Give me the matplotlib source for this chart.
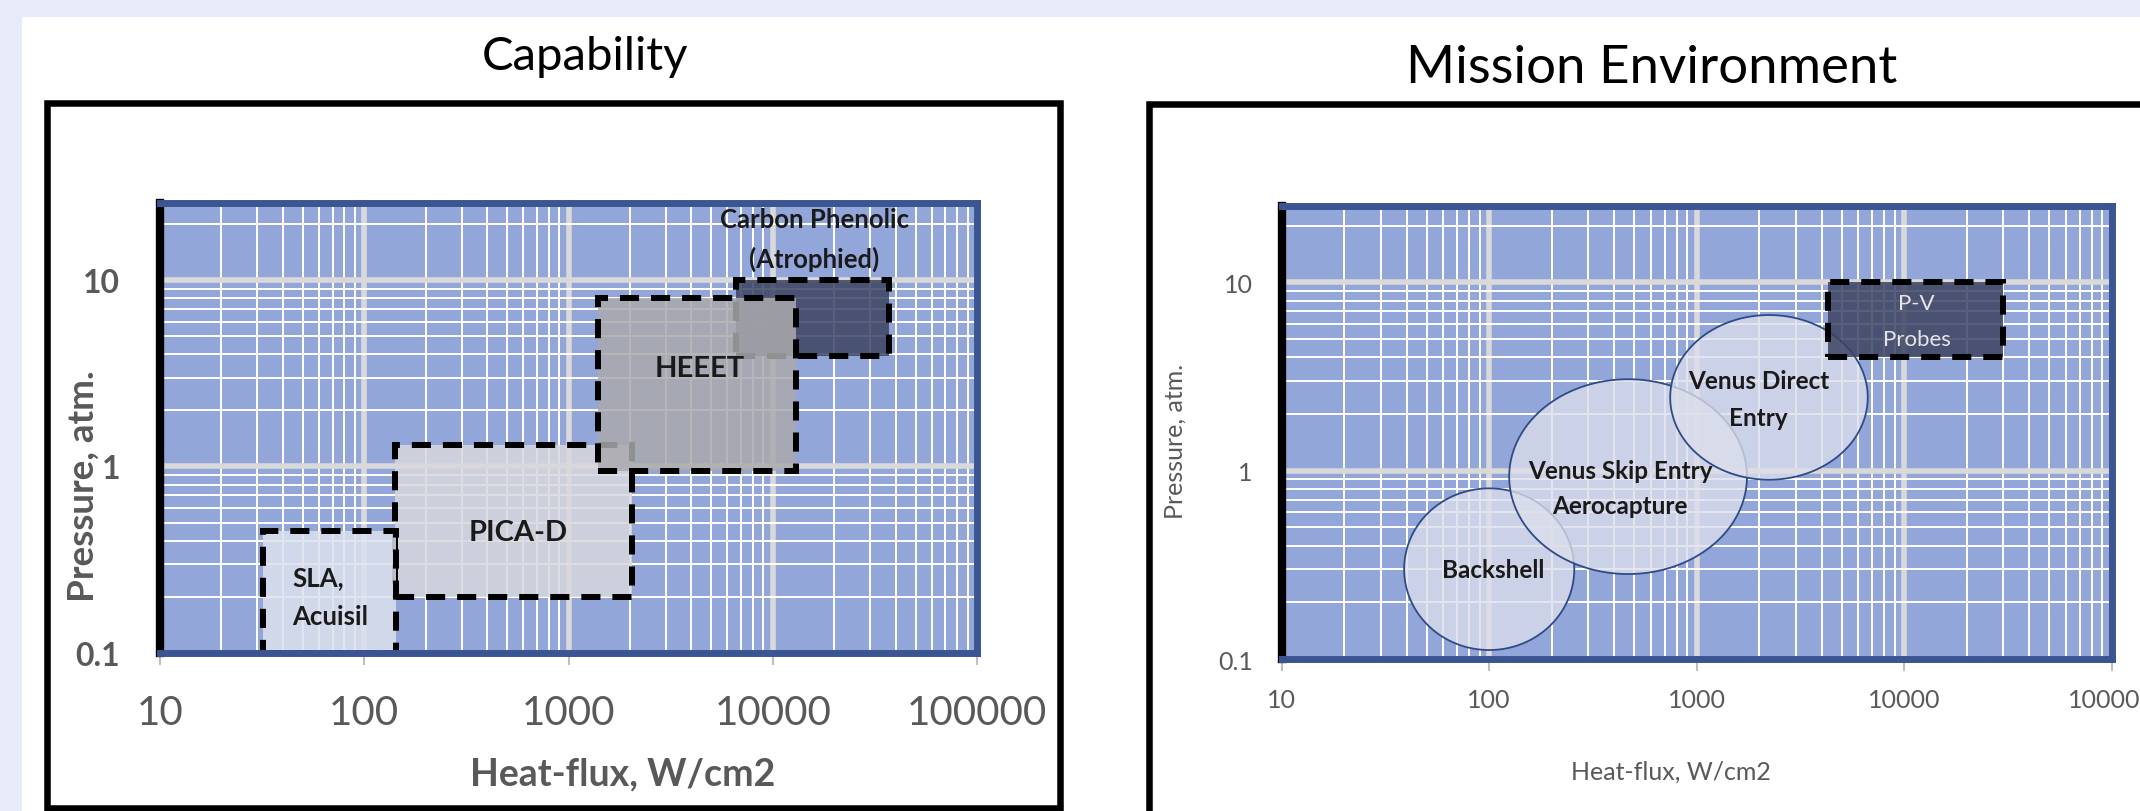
import matplotlib
matplotlib.use("Agg")
import matplotlib.pyplot as plt
import numpy as np
from matplotlib.colors import to_rgba
from matplotlib.patches import Rectangle
from matplotlib.ticker import FixedLocator, FixedFormatter, LogLocator, NullFormatter

plt.rcParams["font.family"] = ["Lato", "DejaVu Sans"]

W, H = 2140, 812

# shared axes
X_TICKS = [10, 100, 1000, 10000, 100000]
X_TICK_LABELS = ["10", "100", "1000", "10000", "100000"]
Y_TICKS = [0.1, 1, 10]
Y_TICK_LABELS = ["0.1", "1", "10"]
X_LIM = (10, 100000)
Y_LIM_CAP = (0.1, 26)
Y_LIM_ENV = (0.1, 25.5)

# Capability boxes (drawn in this order)
CAP_X0 = [6600, 142, 32, 1400]
CAP_X1 = [37000, 2050, 143, 13000]
CAP_Y0 = [3.9, 0.2, 0.1, 0.95]
CAP_Y1 = [10, 1.3, 0.45, 8]
CAP_FILL = ["#3C4361", "#D7D7DD", "#DDE1ED", "#AAAAAD"]

CAP_LABELS = ["Carbon Phenolic\n(Atrophied)", "PICA-D", "SLA,\nAcuisil", "HEEET"]
CAP_LABEL_X = [16000, 570, 44.6, 4400]
CAP_LABEL_Y = [16.7, 0.447, 0.2, 3.36]
CAP_LABEL_SIZE = [18.5, 21, 18.5, 21]
CAP_LABEL_HA = ["center", "center", "left", "center"]
CAP_LABEL_LS = [1.7, 1.2, 1.75, 1.2]

# Mission environment ellipses: centre + half-axes in decades
ENV_LABELS = ["Backshell", "Venus Skip Entry\nAerocapture", "Venus Direct\nEntry"]
ENV_CX = [100, 467, 2230]
ENV_CY = [0.30, 0.93, 2.45]
ENV_RX = [0.41, 0.573, 0.476]
ENV_RY = [0.429, 0.517, 0.437]
ENV_LABEL_X = [104, 427, 1990]
ENV_LABEL_Y = [0.298, 0.81, 2.40]
ENV_LABEL_LS = [1.2, 1.6, 1.74]

PV_X = (4300, 30000)
PV_Y = (4, 10)
PV_LABEL = "P-V\nProbes"
PV_LABEL_XY = (11500, 6.25)

PLOT_BG = "#93A6DA"
BORDER = "#3B5592"
GRAY = "#595959"
LAVENDER = "#E7EAF8"


def fx(px):
    return px / W


def fy(py):
    return 1 - py / H


def style_axes(ax, ylim, tick_size_x, tick_size_y, y_bold, xpad, ypad):
    ax.set_xscale("log")
    ax.set_yscale("log")
    ax.set_xlim(X_LIM)
    ax.set_ylim(ylim)
    ax.set_facecolor(PLOT_BG)
    ax.xaxis.set_major_locator(FixedLocator(X_TICKS))
    ax.xaxis.set_major_formatter(FixedFormatter(X_TICK_LABELS))
    ax.yaxis.set_major_locator(FixedLocator(Y_TICKS))
    ax.yaxis.set_major_formatter(FixedFormatter(Y_TICK_LABELS))
    for axis in (ax.xaxis, ax.yaxis):
        axis.set_minor_locator(LogLocator(base=10, subs=np.arange(2, 10), numticks=20))
        axis.set_minor_formatter(NullFormatter())
    ax.grid(which="major", color="#D9D9D9", lw=4)
    ax.grid(which="minor", color="white", lw=1.4)
    ax.set_axisbelow(True)
    ax.tick_params(which="minor", length=0)
    ax.tick_params(axis="x", which="major", length=8.6, width=1.5, color="#BFBFBF",
                   direction="out", labelsize=tick_size_x, labelcolor=GRAY, pad=xpad)
    ax.tick_params(axis="y", which="major", length=0, labelsize=tick_size_y,
                   labelcolor=GRAY, pad=ypad)
    if y_bold:
        for t in ax.get_yticklabels():
            t.set_fontweight("bold")
    ax.spines["left"].set_color("black")
    ax.spines["left"].set_linewidth(6)
    for s in ("top", "right", "bottom"):
        ax.spines[s].set_color(BORDER)
        ax.spines[s].set_linewidth(5)


fig = plt.figure(figsize=(W / 100, H / 100), dpi=100, facecolor="white")

# slide background bands and chart frames
fig.add_artist(Rectangle((0, fy(18)), 1, 18 / H, transform=fig.transFigure,
                         color=LAVENDER, lw=0, zorder=0))
fig.add_artist(Rectangle((0, 0), fx(22), 1, transform=fig.transFigure,
                         color=LAVENDER, lw=0, zorder=0))
fig.add_artist(Rectangle((fx(46.5), fy(809)), fx(1060 - 46.5), (809 - 103.5) / H,
                         transform=fig.transFigure, fill=False, ec="black", lw=4.7))
fig.add_artist(Rectangle((fx(1149.5), fy(840)), fx(1100), (840 - 104.5) / H,
                         transform=fig.transFigure, fill=False, ec="black", lw=4.7))

fig.text(fx(585), fy(70), "Capability", ha="center", va="baseline", fontsize=34)
fig.text(fx(1652), fy(82.7), "Mission Environment", ha="center", va="baseline", fontsize=38)

# ---- Capability ----
ax1 = fig.add_axes([fx(160), fy(653.7), fx(817), 449.7 / H])
style_axes(ax1, Y_LIM_CAP, 29, 23, True, 21, 28.8)
for x0, x1, y0, y1, c in zip(CAP_X0, CAP_X1, CAP_Y0, CAP_Y1, CAP_FILL):
    ax1.add_patch(Rectangle((x0, y0), x1 - x0, y1 - y0, facecolor=to_rgba(c, 0.85),
                            edgecolor="black", lw=4.3, linestyle=(0, (3.2, 2))))
for lab, x, y, s, ha, ls in zip(CAP_LABELS, CAP_LABEL_X, CAP_LABEL_Y, CAP_LABEL_SIZE,
                                CAP_LABEL_HA, CAP_LABEL_LS):
    ax1.text(x, y, lab, ha=ha, va="center", fontsize=s, fontweight="bold",
             color="#1A1A1A", linespacing=ls, multialignment="center" if ha == "center" else "left")
ax1.set_xlabel("Heat-flux, W/cm2", fontsize=27, fontweight="bold", color=GRAY, va="center")
ax1.xaxis.set_label_coords((623 - 160) / 817, (653.7 - 774) / 449.7)
ax1.set_ylabel("Pressure, atm.", fontsize=26.5, fontweight="bold", color=GRAY, va="center")
ax1.yaxis.set_label_coords((83 - 160) / 817, (653.7 - 486) / 449.7)

# ---- Mission Environment ----
ax2 = fig.add_axes([fx(1281.7), fy(660.1), fx(830), 453.4 / H])
style_axes(ax2, Y_LIM_ENV, 18, 18, False, 12.5, 20.7)
t = np.linspace(0, 2 * np.pi, 300)
for cx, cy, rx, ry in zip(ENV_CX, ENV_CY, ENV_RX, ENV_RY):
    ex = 10 ** (np.log10(cx) + rx * np.cos(t))
    ey = 10 ** (np.log10(cy) + ry * np.sin(t))
    ax2.fill(ex, ey, facecolor=to_rgba("#DCDEEA", 0.78), edgecolor="#2F4B86", lw=1.3)
ax2.add_patch(Rectangle((PV_X[0], PV_Y[0]), PV_X[1] - PV_X[0], PV_Y[1] - PV_Y[0],
                        facecolor=to_rgba("#3C4361", 0.85), edgecolor="black", lw=4.3,
                        linestyle=(0, (3.2, 2))))
for lab, x, y, ls in zip(ENV_LABELS, ENV_LABEL_X, ENV_LABEL_Y, ENV_LABEL_LS):
    ax2.text(x, y, lab, ha="center", va="center", fontsize=17.5, fontweight="bold",
             color="#1A1A1A", linespacing=ls)
ax2.text(PV_LABEL_XY[0], PV_LABEL_XY[1], PV_LABEL, ha="center", va="center",
         fontsize=16, color="#E6E6E6", linespacing=2.0)
ax2.set_xlabel("Heat-flux, W/cm2", fontsize=18, color=GRAY, va="center")
ax2.xaxis.set_label_coords((1671 - 1281.7) / 830, (660.1 - 771.7) / 453.4)
ax2.set_ylabel("Pressure, atm.", fontsize=18, color=GRAY, va="center")
ax2.yaxis.set_label_coords((1175 - 1281.7) / 830, (660.1 - 441) / 453.4)

fig.savefig("out.png", dpi=100)
